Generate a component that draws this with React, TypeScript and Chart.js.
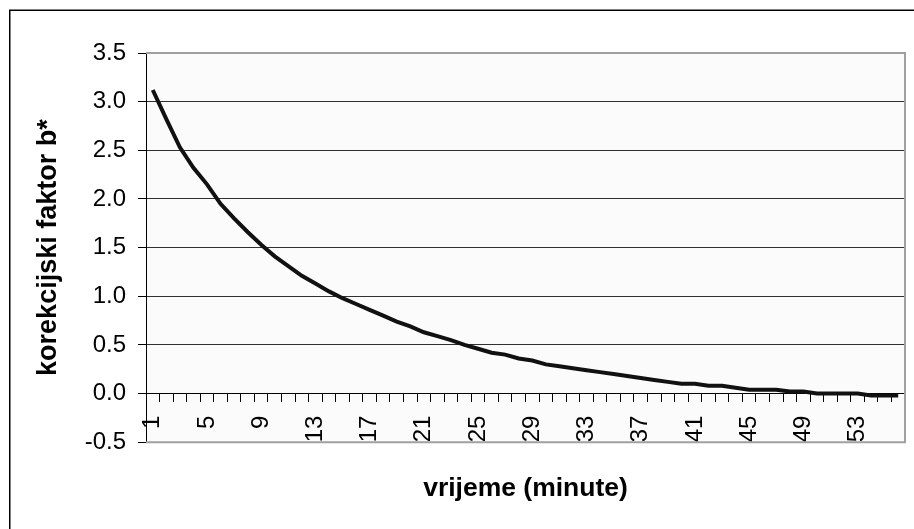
import React, { useEffect, useRef } from "react";
import { Chart, registerables } from "chart.js";

Chart.register(...registerables);

const minutes: string[] = Array.from({ length: 56 }, (_, i) => String(i + 1));
const factorB: number[] = [
  3.12, 2.82, 2.53, 2.32, 2.15, 1.95, 1.8, 1.66, 1.53, 1.41,
  1.31, 1.21, 1.13, 1.05, 0.98, 0.92, 0.86, 0.8, 0.74, 0.69,
  0.63, 0.59, 0.55, 0.5, 0.46, 0.42, 0.4, 0.36, 0.34, 0.3,
  0.28, 0.26, 0.24, 0.22, 0.2, 0.18, 0.16, 0.14, 0.12, 0.1,
  0.1, 0.08, 0.08, 0.06, 0.04, 0.04, 0.04, 0.02, 0.02, 0.0,
  0.0, 0.0, 0.0, -0.02, -0.02, -0.02,
];
const yMin = -0.5;
const yMax = 3.5;
const yStep = 0.5;
const xTitle = "vrijeme (minute)";
const yTitle = "korekcijski faktor b*";

const FONT = "'Liberation Sans', Arial, sans-serif";

const framePlugin = {
  id: "frame",
  beforeDraw(chart: any) {
    const { ctx, chartArea: a } = chart;
    ctx.save();
    ctx.fillStyle = "#ffffff";
    ctx.fillRect(0, 0, chart.width, chart.height);
    ctx.strokeStyle = "#000000";
    ctx.lineWidth = 1.5;
    ctx.strokeRect(9.75, 10.25, chart.width + 20, chart.height + 20);
    ctx.fillStyle = "#fbfbfb";
    ctx.fillRect(a.left, a.top, a.right - a.left, a.bottom - a.top);
    ctx.restore();
  },
  beforeDatasetsDraw(chart: any) {
    const { ctx, chartArea: a } = chart;
    ctx.save();
    ctx.strokeStyle = "#a0a0a0";
    ctx.lineWidth = 2;
    ctx.beginPath();
    ctx.moveTo(a.left, a.top);
    ctx.lineTo(a.right, a.top);
    ctx.lineTo(a.right, a.bottom);
    ctx.lineTo(a.left, a.bottom);
    ctx.stroke();
    ctx.restore();
  },
};

export default function App() {
  const ref = useRef<HTMLCanvasElement | null>(null);
  useEffect(() => {
    if (!ref.current) return;
    const chart = new Chart(ref.current, {
      type: "line",
      data: {
        labels: minutes,
        datasets: [
          {
            data: factorB,
            borderColor: "#111111",
            borderWidth: 4,
            pointRadius: 0,
            tension: 0,
            fill: false,
          },
        ],
      },
      plugins: [framePlugin],
      options: {
        responsive: false,
        animation: false,
        layout: { padding: { left: 0, right: 9, top: 53, bottom: 0 } },
        plugins: {
          legend: { display: false },
          tooltip: { enabled: false },
          title: {
            display: true,
            position: "bottom",
            fullSize: false,
            text: xTitle,
            color: "#000",
            font: { family: FONT, size: 26.5, weight: "bold" },
            padding: { top: 31, bottom: 24 },
          },
        },
        scales: {
          x: {
            type: "category",
            position: { y: 0 } as any,
            offset: true,
            afterFit: (s: any) => {
              s.height = 0;
              s.paddingLeft = 0;
              s.paddingRight = 0;
            },
            grid: {
              offset: true,
              drawOnChartArea: false,
              drawTicks: true,
              tickLength: 8,
              tickColor: "#000",
              color: "#000",
            },
            border: { display: true, color: "#000", width: 1 },
            ticks: {
              autoSkip: false,
              minRotation: 90,
              maxRotation: 90,
              padding: 14,
              color: "#000",
              font: { family: FONT, size: 24 },
              callback: (_v: any, i: number) => (i % 4 === 0 ? minutes[i] : ""),
            },
          },
          y: {
            min: yMin,
            max: yMax,
            afterFit: (s: any) => {
              s.width = 146;
              s.paddingTop = 0;
              s.paddingBottom = 0;
            },
            grid: {
              color: (c: any) =>
                c.tick && (c.tick.value === yMin || c.tick.value === yMax) ? "rgba(0,0,0,0)" : "#303030",
              tickColor: "#000",
              tickLength: 8,
              lineWidth: 1,
            },
            border: { display: true, color: "#000", width: 1 },
            ticks: {
              stepSize: yStep,
              padding: 12,
              color: "#000",
              font: { family: FONT, size: 24 },
              callback: (v: any) => Number(v).toFixed(1),
            },
            title: {
              display: true,
              text: yTitle,
              color: "#000",
              font: { family: FONT, size: 27, weight: "bold" },
              padding: { top: 32, bottom: 0 },
            },
          },
        },
      },
    });
    return () => chart.destroy();
  }, []);
  return (
    <div style={{ position: "fixed", left: 0, top: 0, width: 914, height: 529 }}>
      <canvas ref={ref} width={914} height={529} style={{ display: "block" }} />
    </div>
  );
}
